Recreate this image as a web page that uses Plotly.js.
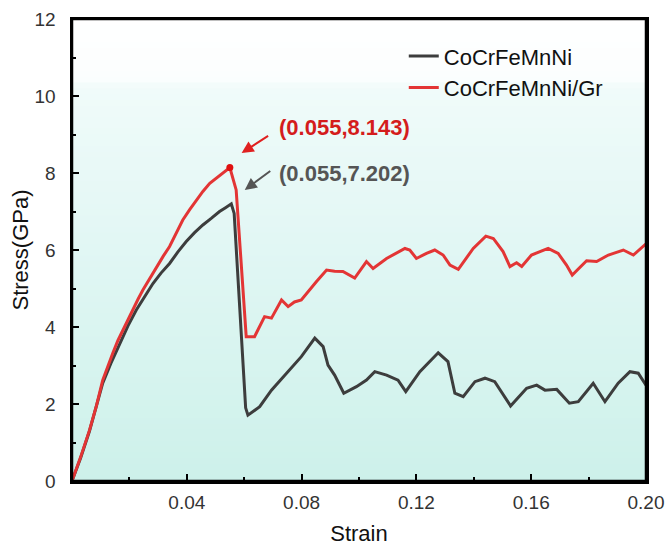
<!DOCTYPE html>
<html>
<head>
<meta charset="utf-8">
<script src="https://cdn.plot.ly/plotly-3.0.1.min.js"></script>
<style>html,body{margin:0;padding:0;background:#fff;}#chart{width:667px;height:549px;}</style>
</head>
<body>
<div id="chart"></div>
<script>
// ---- data ----
const seriesNames = ["CoCrFeMnNi", "CoCrFeMnNi/Gr"];

const strainBase = [0, 0.003, 0.0061, 0.0085, 0.0107, 0.0135, 0.0166, 0.0195, 0.0224, 0.0253, 0.0282, 0.031, 0.034, 0.0369, 0.0398, 0.0427, 0.0456, 0.0485, 0.0514, 0.0535, 0.0555, 0.0565, 0.0585, 0.0605, 0.0613, 0.0654, 0.0695, 0.0747, 0.0799, 0.0846, 0.0875, 0.0892, 0.0915, 0.0947, 0.0991, 0.1026, 0.1055, 0.1096, 0.1136, 0.1163, 0.1212, 0.1276, 0.131, 0.1334, 0.1363, 0.1404, 0.1439, 0.1473, 0.1528, 0.1584, 0.1619, 0.1648, 0.1689, 0.1733, 0.1764, 0.1816, 0.1857, 0.1903, 0.1944, 0.1973, 0.2];
const stressBase = [0, 0.6, 1.3, 1.92, 2.54, 3.05, 3.58, 4.03, 4.44, 4.8, 5.13, 5.4, 5.65, 5.95, 6.22, 6.45, 6.65, 6.82, 7.0, 7.1, 7.2, 6.95, 4.5, 1.9, 1.71, 1.93, 2.36, 2.8, 3.23, 3.71, 3.49, 3.01, 2.75, 2.28, 2.45, 2.62, 2.84, 2.75, 2.62, 2.32, 2.84, 3.33, 3.1, 2.28, 2.19, 2.58, 2.67, 2.58, 1.95, 2.41, 2.49, 2.36, 2.38, 2.02, 2.06, 2.54, 2.06, 2.54, 2.84, 2.8, 2.49];

const strainGr = [0, 0.003, 0.0061, 0.0085, 0.0107, 0.0125, 0.0142, 0.016, 0.0177, 0.0195, 0.0212, 0.023, 0.0247, 0.027, 0.0294, 0.0318, 0.034, 0.0363, 0.0386, 0.041, 0.0433, 0.0456, 0.048, 0.0503, 0.0526, 0.055, 0.0572, 0.0589, 0.0607, 0.0636, 0.0655, 0.0671, 0.0695, 0.0712, 0.073, 0.0753, 0.0775, 0.0799, 0.0815, 0.0852, 0.0887, 0.0915, 0.0944, 0.0985, 0.1026, 0.1049, 0.1096, 0.113, 0.116, 0.1177, 0.12, 0.1235, 0.1264, 0.1293, 0.1317, 0.1346, 0.1398, 0.1442, 0.1468, 0.1502, 0.1526, 0.1549, 0.1567, 0.1601, 0.1659, 0.1694, 0.1723, 0.1743, 0.1793, 0.1828, 0.1869, 0.1921, 0.1956, 0.2];
const stressGr = [0, 0.62, 1.32, 1.95, 2.62, 3.0, 3.32, 3.65, 3.92, 4.2, 4.44, 4.72, 4.96, 5.25, 5.57, 5.84, 6.09, 6.42, 6.78, 7.05, 7.3, 7.52, 7.73, 7.87, 7.99, 8.143, 7.56, 5.6, 3.75, 3.75, 4.05, 4.27, 4.23, 4.45, 4.7, 4.53, 4.65, 4.7, 4.85, 5.18, 5.48, 5.45, 5.44, 5.27, 5.7, 5.52, 5.78, 5.92, 6.04, 6.0, 5.78, 5.91, 6.0, 5.87, 5.61, 5.5, 6.04, 6.36, 6.3, 5.96, 5.57, 5.67, 5.57, 5.87, 6.04, 5.91, 5.61, 5.35, 5.72, 5.7, 5.87, 6.0, 5.87, 6.16];

const peakStrain = [0.055, 0.055];
const peakStress = [7.202, 8.143];

const xTickVals = [0.04, 0.08, 0.12, 0.16, 0.20];
const xTickText = ["0.04", "0.08", "0.12", "0.16", "0.20"];
const xMinorVals = [0.02, 0.06, 0.10, 0.14, 0.18];
const yTickVals = [0, 2, 4, 6, 8, 10, 12];
const yTickText = ["0", "2", "4", "6", "8", "10", "12"];
const yMinorVals = [1, 3, 5, 7, 9, 11];

const xRange = [0, 0.2];
const yRange = [0, 12];

// ---- styles ----
const colBase = "#3d3d3d";
const colGr = "#e33535";
const font = "Liberation Sans, Arial, sans-serif";

const label = (x, y) => "(" + x.toFixed(3) + "," + y.toFixed(3) + ")";

// background gradient bands (paper coords, style only)
const gradStops = [[0, [205, 241, 234]], [0.45, [223, 246, 243]], [0.85, [240, 251, 250]], [0.87, [251, 254, 254]], [1, [255, 255, 255]]];
function gradColor(t) {
  for (let i = 1; i < gradStops.length; i++) {
    if (t <= gradStops[i][0]) {
      const a = gradStops[i - 1], b = gradStops[i];
      const f = (t - a[0]) / (b[0] - a[0]);
      const c = a[1].map((v, k) => Math.round(v + (b[1][k] - v) * f));
      return "rgb(" + c.join(",") + ")";
    }
  }
  return "rgb(255,255,255)";
}
const bands = [];
const nBands = 80;
for (let i = 0; i < nBands; i++) {
  const y0 = i / nBands, y1 = (i + 1) / nBands;
  bands.push({type: "rect", xref: "paper", yref: "paper", x0: 0, x1: 1, y0: y0, y1: y1 + 0.002,
    fillcolor: gradColor((y0 + y1) / 2), line: {width: 0}, layer: "below"});
}

const traces = [
  {x: strainBase, y: stressBase, mode: "lines", name: seriesNames[0], line: {color: colBase, width: 3}},
  {x: strainGr, y: stressGr, mode: "lines", name: seriesNames[1], line: {color: colGr, width: 3}},
  {x: [peakStrain[1]], y: [peakStress[1]], mode: "markers", marker: {color: "#e01010", size: 7}, showlegend: false, hoverinfo: "skip"}
];

const layout = {
  width: 667, height: 549,
  margin: {l: 72, r: 21, t: 19, b: 68},
  paper_bgcolor: "#ffffff", plot_bgcolor: "#ffffff",
  font: {family: font, color: "#222"},
  showlegend: true,
  legend: {
    x: 0.578, y: 0.965, xanchor: "left", yanchor: "top",
    bgcolor: "rgba(0,0,0,0)", borderwidth: 0,
    font: {family: font, size: 22, color: "#111"},
    tracegroupgap: 0
  },
  xaxis: {
    range: xRange, showgrid: false, zeroline: false,
    showline: true, linewidth: 2.5, linecolor: "#000", mirror: true,
    ticks: "inside", ticklen: 7, tickwidth: 2, tickcolor: "#000",
    tickmode: "array", tickvals: xTickVals, ticktext: xTickText,
    minor: {tickmode: "array", tickvals: xMinorVals, ticks: "inside", ticklen: 4, tickwidth: 2, tickcolor: "#000"},
    tickfont: {family: font, size: 19, color: "#333"},
    ticklabelstandoff: 3,
    title: {text: "Strain", font: {family: font, size: 22, color: "#111"}, standoff: 14}
  },
  yaxis: {
    range: yRange, showgrid: false, zeroline: false,
    showline: true, linewidth: 2.5, linecolor: "#000", mirror: true,
    ticks: "inside", ticklen: 7, tickwidth: 2, tickcolor: "#000",
    tickmode: "array", tickvals: yTickVals, ticktext: yTickText,
    minor: {tickmode: "array", tickvals: yMinorVals, ticks: "inside", ticklen: 4, tickwidth: 2, tickcolor: "#000"},
    tickfont: {family: font, size: 19, color: "#333"},
    ticklabelstandoff: 10,
    title: {text: "Stress(GPa)", font: {family: font, size: 22, color: "#111"}, standoff: 0}
  },
  shapes: bands.concat([
    {type: "rect", xref: "paper", yref: "paper", x0: 0, x1: 1, y0: 0, y1: 1,
     line: {color: "#000000", width: 2.5}, layer: "above"}
  ]),
  annotations: [
    {x: 0.0591, y: 8.52, xref: "x", yref: "y", text: "", showarrow: true, ax: 28, ay: -18,
     arrowcolor: "#e02020", arrowwidth: 2, arrowhead: 2, arrowsize: 1.2},
    {x: 0.0602, y: 7.56, xref: "x", yref: "y", text: "", showarrow: true, ax: 27, ay: -20,
     arrowcolor: "#555", arrowwidth: 2, arrowhead: 2, arrowsize: 1.2},
    {x: 0.0713, y: 9.19, xref: "x", yref: "y", xanchor: "left", yanchor: "middle", showarrow: false,
     text: "<b>" + label(peakStrain[1], peakStress[1]) + "</b>", font: {family: font, size: 22, color: "#d41c1c"}},
    {x: 0.0713, y: 8.0, xref: "x", yref: "y", xanchor: "left", yanchor: "middle", showarrow: false,
     text: "<b>" + label(peakStrain[0], peakStress[0]) + "</b>", font: {family: font, size: 22, color: "#555"}}
  ]
};

Plotly.newPlot("chart", traces, layout, {displayModeBar: false, staticPlot: true});
</script>
</body>
</html>
